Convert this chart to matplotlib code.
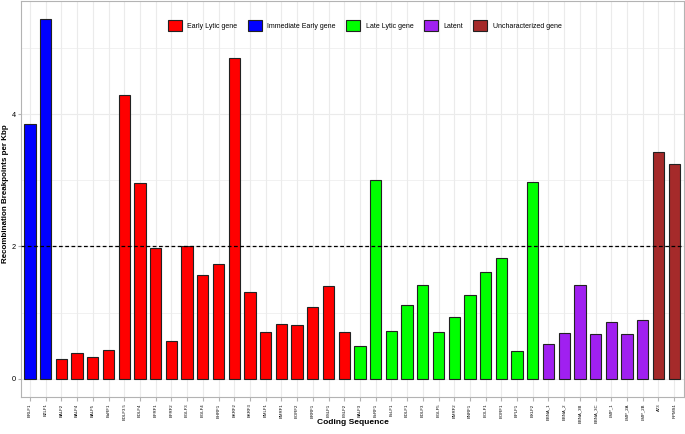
import matplotlib
matplotlib.use('Agg')
import matplotlib.pyplot as plt
from matplotlib.patches import Patch
from matplotlib.ticker import MultipleLocator

plt.rcParams['font.family'] = ['Liberation Sans', 'DejaVu Sans']

# Coding sequences in plot order, with their breakpoint rate and gene class
genes = ['BRLF1', 'BZLF1',
         'BALF2', 'BALF4', 'BALF5', 'BaRF1', 'BDLF3.5', 'BDLF4', 'BFRF1', 'BFRF2', 'BGLF3', 'BGLF4',
         'BHRF1', 'BKRF2', 'BKRF3', 'BMLF1', 'BMRF1', 'BORF2', 'BRRF1', 'BSLF1', 'BSLF2',
         'BALF3', 'BcRF1', 'BcLF1', 'BDLF1', 'BDLF3', 'BGLF5', 'BMRF2', 'BNRF1', 'BOLF1', 'BORF1',
         'BPLF1', 'BXLF2',
         'EBNA_1', 'EBNA_2', 'EBNA_3B', 'EBNA_3C', 'LMP_1', 'LMP_2A', 'LMP_2B',
         'A73', 'RPMS1']
breakpoints = [3.85, 5.44,
               0.30, 0.39, 0.33, 0.44, 4.29, 2.95, 1.97, 0.57, 2.00, 1.56,
               1.74, 4.84, 1.31, 0.70, 0.83, 0.81, 1.08, 1.40, 0.70,
               0.49, 3.00, 0.72, 1.11, 1.42, 0.71, 0.93, 1.27, 1.61, 1.83,
               0.42, 2.98,
               0.52, 0.69, 1.42, 0.67, 0.86, 0.68, 0.89,
               3.42, 3.24]
gene_class = (['Immediate Early gene'] * 2 + ['Early Lytic gene'] * 19 + ['Late Lytic gene'] * 12
              + ['Latent'] * 7 + ['Uncharacterized gene'] * 2)

class_order = ['Early Lytic gene', 'Immediate Early gene', 'Late Lytic gene', 'Latent', 'Uncharacterized gene']
class_colors = {'Early Lytic gene': '#FF0000',
                'Immediate Early gene': '#0000FF',
                'Late Lytic gene': '#00FF00',
                'Latent': '#A020F0',
                'Uncharacterized gene': '#A52A2A'}

fig = plt.figure(figsize=(6.85, 4.34), dpi=100)
ax = fig.add_axes([0.030, 0.086, 0.968, 0.912])

x = list(range(len(genes)))
ax.bar(x, breakpoints, width=0.72, color=[class_colors[c] for c in gene_class],
       edgecolor='#222222', linewidth=0.8, zorder=3)

# threshold line
ax.axhline(2, color='black', linestyle=(0, (3, 2)), linewidth=0.9, zorder=4)

ax.set_xlim(-0.6, len(genes) - 0.4)
ax.set_ylim(-0.272, 5.71)
ax.set_xticks(x)
ax.set_xticklabels(genes, rotation=90, fontsize=3.1)
ax.yaxis.set_major_locator(MultipleLocator(2))
ax.yaxis.set_minor_locator(MultipleLocator(1))
ax.tick_params(axis='y', which='major', labelsize=5.3, length=2.5, color='#B3B3B3', pad=1)
ax.tick_params(axis='y', which='minor', length=0)
ax.tick_params(axis='x', length=3, color='#B3B3B3', pad=2)

# light theme: grey grid and panel border
ax.grid(True, which='major', color='#EBEBEB', linewidth=0.8, zorder=0)
ax.grid(True, which='minor', axis='y', color='#EBEBEB', linewidth=0.5, zorder=0)
ax.set_axisbelow(True)
for s in ax.spines.values():
    s.set_color('#B3B3B3')
    s.set_linewidth(0.8)

# axis titles placed by hand, the figure margins are tight
fig.text(0.5 + 0.015, 1 - 423 / 434, 'Coding Sequence', fontsize=6, fontweight='bold',
         ha='center', va='center')
fig.text(6 / 685, 1 - 194 / 434, 'Recombination Breakpoints per Kbp', fontsize=5.8, fontweight='bold',
         rotation=90, ha='center', va='center')

handles = [Patch(facecolor=class_colors[c], edgecolor='#222222', linewidth=0.8, label=c) for c in class_order]
ax.legend(handles=handles, loc='center', bbox_to_anchor=(0.519, 0.9375), ncol=5, frameon=False,
          fontsize=5.0, handlelength=2.0, handleheight=2.0, handletextpad=0.8, columnspacing=1.5)

fig.savefig('out.png', dpi=100)
